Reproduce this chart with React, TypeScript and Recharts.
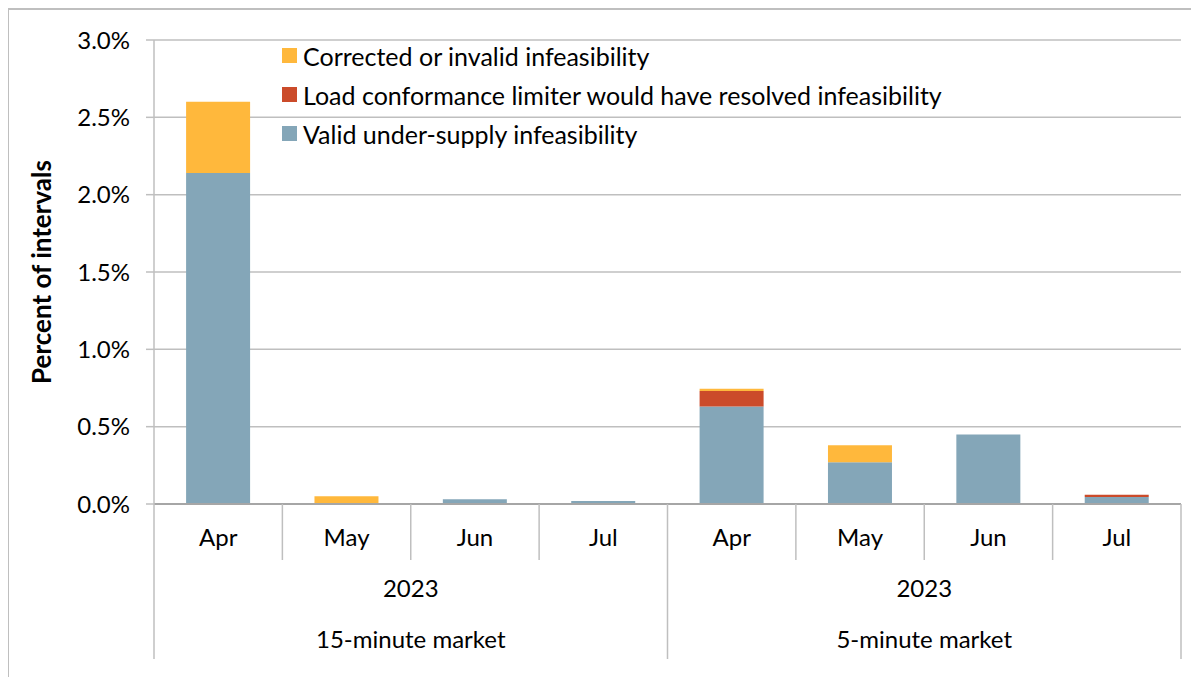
import { BarChart, Bar, XAxis, YAxis, CartesianGrid, Legend } from 'recharts'

const months = ['Apr', 'May', 'Jun', 'Jul', 'Apr', 'May', 'Jun', 'Jul']
const years = ['2023', '2023', '2023', '2023', '2023', '2023', '2023', '2023']
const markets = [
    '15-minute market', '15-minute market', '15-minute market', '15-minute market',
    '5-minute market', '5-minute market', '5-minute market', '5-minute market',
]
// percent of intervals
const valid = [2.14, 0, 0.03, 0.02, 0.63, 0.27, 0.45, 0.045]
const loadLimiter = [0, 0, 0, 0, 0.1, 0, 0, 0.015]
const corrected = [0.46, 0.05, 0, 0, 0.015, 0.11, 0, 0]
const yTicks = [0, 0.5, 1, 1.5, 2, 2.5, 3]

const series = [
    { key: 'corrected', name: 'Corrected or invalid infeasibility', color: '#FFB83C' },
    { key: 'load', name: 'Load conformance limiter would have resolved infeasibility', color: '#CB4B2A' },
    { key: 'valid', name: 'Valid under-supply infeasibility', color: '#84A6B8' },
]

const data = months.map((m, i) => ({
    id: `${markets[i]}-${m}`,
    month: m,
    year: years[i],
    market: markets[i],
    valid: valid[i],
    load: loadLimiter[i],
    corrected: corrected[i],
}))

const FONT = 'Lato, sans-serif'
const LINE = '#BFBFBF'

function CategoryTick (props: any) {
    const { x, y, index, payload } = props
    const half = payload.offset ?? 0
    const d = data[index]
    const first = index === 0 || markets[index - 1] !== d.market
    const last = index === data.length - 1
    const groupMid = index === 1 || index === 5
    return (
        <g>
            <line x1={x - half} x2={x - half} y1={y} y2={y + (first ? 155 : 56)} stroke={LINE} strokeWidth={1.5} />
            {last && <line x1={x + half} x2={x + half} y1={y} y2={y + 155} stroke={LINE} strokeWidth={1.5} />}
            <text x={x} y={y + 32} textAnchor="middle" dominantBaseline="central" fontSize={24} fill="#000" fontFamily={FONT}>{d.month}</text>
            {groupMid && (
                <>
                    <text x={x + half} y={y + 83} textAnchor="middle" dominantBaseline="central" fontSize={24} fill="#000" fontFamily={FONT}>{d.year}</text>
                    <text x={x + half} y={y + 134} textAnchor="middle" dominantBaseline="central" fontSize={24} fill="#000" fontFamily={FONT}>{d.market}</text>
                </>
            )}
        </g>
    )
}

function LegendBox () {
    return (
        <div style={{ fontFamily: FONT, fontSize: 25, color: '#000' }}>
            {series.map(s => (
                <div key={s.key} style={{ display: 'flex', alignItems: 'center', height: 39 }}>
                    <span style={{ width: 15, height: 15, background: s.color, marginRight: 6, display: 'inline-block' }} />
                    <span>{s.name}</span>
                </div>
            ))}
        </div>
    )
}

export default function App () {
    return (
        <div style={{ width: 1186, height: 680, border: '2px solid #BFBFBF', boxSizing: 'border-box', marginLeft: -1, background: '#fff' }}>
            <BarChart
                width={1182}
                height={676}
                data={data}
                margin={{ top: 30, right: 10, left: 0, bottom: 12 }}
                barCategoryGap="25%"
            >
                <CartesianGrid vertical={false} stroke={LINE} strokeWidth={1.5} />
                <XAxis
                    dataKey="id"
                    interval={0}
                    height={170}
                    tickSize={0}
                    tickMargin={0}
                    tickLine={false}
                    axisLine={{ stroke: '#A6A6A6', strokeWidth: 2 }}
                    tick={<CategoryTick />}
                />
                <YAxis
                    width={145}
                    domain={[0, 3]}
                    ticks={yTicks}
                    tickFormatter={(v: number) => `${v.toFixed(1)}%`}
                    tickSize={8}
                    tickMargin={16}
                    tick={{ fontSize: 24, fill: '#000', fontFamily: FONT }}
                    tickLine={{ stroke: LINE, strokeWidth: 1.5 }}
                    axisLine={{ stroke: LINE, strokeWidth: 1.5 }}
                    label={{ value: 'Percent of intervals', angle: -90, position: 'insideLeft', dx: 28, fontSize: 26, fontWeight: 700, fill: '#000', fontFamily: FONT, style: { textAnchor: 'middle' } }}
                />
                <Legend
                    content={<LegendBox />}
                    layout="horizontal"
                    verticalAlign="middle"
                    align="center"
                    wrapperStyle={{ left: 273, top: 26, width: 'auto' }}
                />
                <Bar dataKey="valid" stackId="a" fill="#84A6B8" name={series[2].name} isAnimationActive={false} />
                <Bar dataKey="load" stackId="a" fill="#CB4B2A" name={series[1].name} isAnimationActive={false} />
                <Bar dataKey="corrected" stackId="a" fill="#FFB83C" name={series[0].name} isAnimationActive={false} />
            </BarChart>
        </div>
    )
}
